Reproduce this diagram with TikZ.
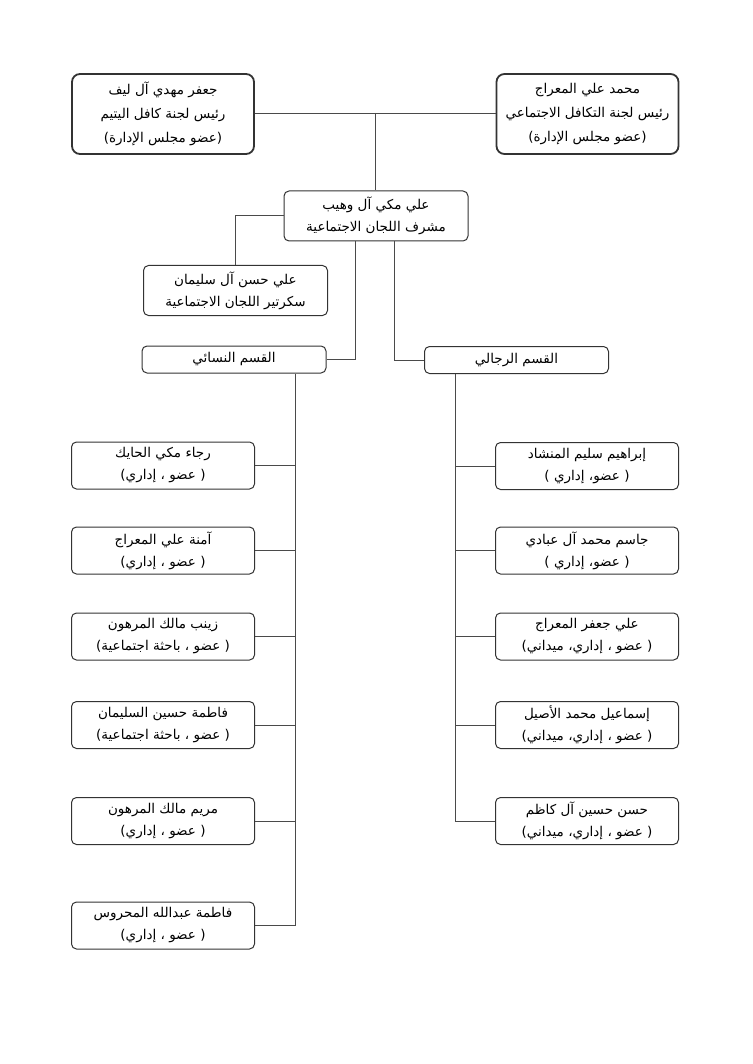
\documentclass[tikz,border=0pt]{standalone}
\usepackage{fontspec}
\TeXXeTstate=1
\newfontfamily\arabicfont[Script=Arabic]{DejaVu Sans}
\definecolor{edge}{HTML}{333333}
\definecolor{wire}{HTML}{4A4A4A}
\tikzset{
  box/.style={draw=edge, rounded corners=5pt, line width=1pt, align=center,
    font=\arabicfont\fontsize{13.5}{22}\selectfont, inner sep=2pt, text=black},
  topbox/.style={box, font=\arabicfont\fontsize{13.5}{24}\selectfont, line width=1.8pt, rounded corners=8pt, minimum width=182pt, minimum height=80pt},
  midbox/.style={box, minimum width=184pt, minimum height=50pt},
  secbox/.style={box, minimum width=184pt, minimum height=27pt},
  itembox/.style={box, minimum width=183pt, minimum height=47pt},
  wire/.style={draw=wire, line width=1pt}
}
\newcommand{\rl}[1]{\beginR #1\endR}
\begin{document}
\begin{tikzpicture}[x=1pt,y=-1pt]
\useasboundingbox[fill=white] (0,0) rectangle (752,1064);
% top
\node[topbox] (tl) at (163,114) {\rl{جعفر مهدي آل ليف}\\\rl{رئيس لجنة كافل اليتيم}\\\rl{(عضو مجلس الإدارة)}};
\node[topbox] (tr) at (587.5,114) {\rl{محمد علي المعراج}\\\rl{رئيس لجنة التكافل الاجتماعي}\\\rl{(عضو مجلس الإدارة)}};
\node[midbox] (sup) at (376,216) {\rl{علي مكي آل وهيب}\\\rl{مشرف اللجان الاجتماعية}};
\node[midbox] (sec) at (235.5,290.5) {\rl{علي حسن آل سليمان}\\\rl{سكرتير اللجان الاجتماعية}};
\node[secbox] (wsec) at (234,359.5) {\rl{القسم النسائي}};
\node[secbox] (msec) at (516.5,360) {\rl{القسم الرجالي}};
% women
\node[itembox] (w1) at (163,465.5) {\rl{رجاء مكي الحايك}\\\rl{( عضو ، إداري)}};
\node[itembox] (w2) at (163,550.5) {\rl{آمنة علي المعراج}\\\rl{( عضو ، إداري)}};
\node[itembox] (w3) at (163,636.5) {\rl{زينب مالك المرهون}\\\rl{( عضو ، باحثة اجتماعية)}};
\node[itembox] (w4) at (163,725) {\rl{فاطمة حسين السليمان}\\\rl{( عضو ، باحثة اجتماعية)}};
\node[itembox] (w5) at (163,821) {\rl{مريم مالك المرهون}\\\rl{( عضو ، إداري)}};
\node[itembox] (w6) at (163,925.5) {\rl{فاطمة عبدالله المحروس}\\\rl{( عضو ، إداري)}};
% men
\node[itembox] (m1) at (587,466) {\rl{إبراهيم سليم المنشاد}\\\rl{( عضو، إداري )}};
\node[itembox] (m2) at (587,550.5) {\rl{جاسم محمد آل عبادي}\\\rl{( عضو، إداري )}};
\node[itembox] (m3) at (587,636.5) {\rl{علي جعفر المعراج}\\\rl{( عضو ، إداري، ميداني)}};
\node[itembox] (m4) at (587,725) {\rl{إسماعيل محمد الأصيل}\\\rl{( عضو ، إداري، ميداني)}};
\node[itembox] (m5) at (587,821) {\rl{حسن حسين آل كاظم}\\\rl{( عضو ، إداري، ميداني)}};
% connectors
\coordinate (j) at (375,113);
\draw[wire] (tl.east) -- (tr.west);
\draw[wire] (j) -- (j |- sup.north);
\draw[wire] (sup.west) -| (sec.north);
\draw[wire] ([xshift=-21pt]sup.south) |- (wsec.east);
\draw[wire] ([xshift=18pt]sup.south) |- (msec.west);
\coordinate (ws) at (295,373);
\coordinate (ms) at (455,374);
\draw[wire] (ws |- wsec.south) -- (ws |- w6.east) -- (w6.east);
\foreach \i in {1,...,5} \draw[wire] (w\i.east) -- (ws |- w\i.east);
\draw[wire] (ms |- msec.south) -- (ms |- m5.west) -- (m5.west);
\foreach \i in {1,...,4} \draw[wire] (m\i.west) -- (ms |- m\i.west);
\end{tikzpicture}
\end{document}
